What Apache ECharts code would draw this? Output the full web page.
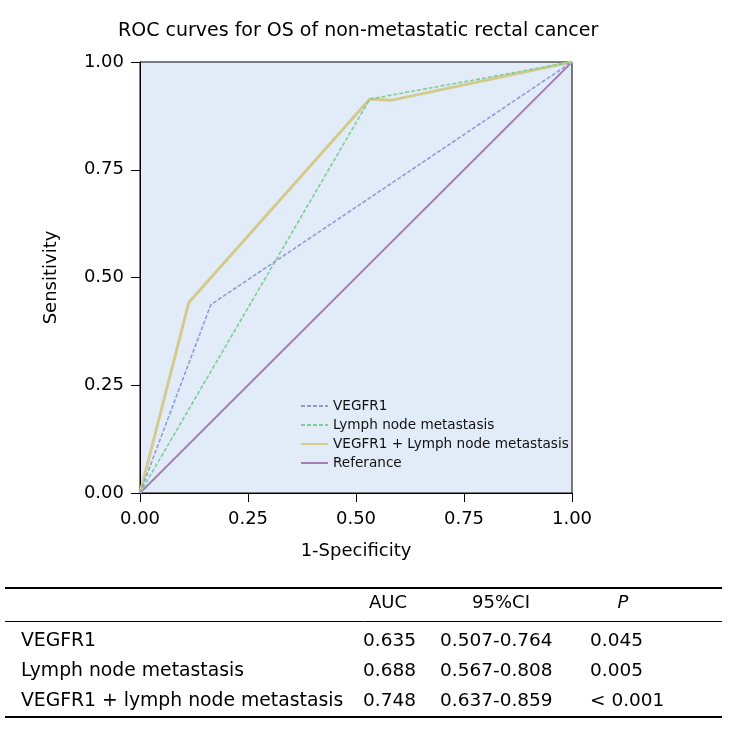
<!DOCTYPE html>
<html>
<head>
<meta charset="utf-8">
<script src="https://cdn.jsdelivr.net/npm/echarts@6/dist/echarts.min.js"></script>
<style>html,body{margin:0;padding:0;background:#fff;}#c{width:732px;height:747px;}</style>
</head>
<body>
<div id="c"></div>
<script>
const titleText = 'ROC curves for OS of non-metastatic rectal cancer';
const axisTicks = [0, 0.25, 0.5, 0.75, 1];
const seriesNames = ['VEGFR1', 'Lymph node metastasis', 'VEGFR1 + Lymph node metastasis', 'Referance'];
const vegfr1X = [0, 0.164, 1];
const vegfr1Y = [0, 0.437, 1];
const lnmX = [0, 0.532, 1];
const lnmY = [0, 0.914, 1];
const comboX = [0, 0.113, 0.532, 0.58, 1];
const comboY = [0, 0.442, 0.914, 0.911, 1];
const refX = [0, 1];
const refY = [0, 1];

const tableHeader = ['AUC', '95%CI', 'P'];
const tableNames = ['VEGFR1', 'Lymph node metastasis', 'VEGFR1 + lymph node metastasis'];
const tableAUC = ['0.635', '0.688', '0.748'];
const tableCI = ['0.507-0.764', '0.567-0.808', '0.637-0.859'];
const tableP = ['0.045', '0.005', '< 0.001'];

const FONT = 'DejaVu Sans';
const pairs = (xs, ys) => xs.map((x, i) => [x, ys[i]]);

const chart = echarts.init(document.getElementById('c'), null, {renderer: 'canvas'});

const graphic = [];
graphic.push({type: 'line', shape: {x1: 5, y1: 588, x2: 722, y2: 588}, style: {stroke: '#000', lineWidth: 2}});
graphic.push({type: 'line', shape: {x1: 5, y1: 621.5, x2: 722, y2: 621.5}, style: {stroke: '#000', lineWidth: 1}});
graphic.push({type: 'line', shape: {x1: 5, y1: 717, x2: 722, y2: 717}, style: {stroke: '#000', lineWidth: 2}});
const colCenters = [388, 501, 623];
const tfs = 18.5;
tableHeader.forEach((h, i) => {
  graphic.push({type: 'text', x: colCenters[i], y: 603, style: {text: h, fontFamily: FONT, fontSize: 18, fill: '#000', align: 'center', verticalAlign: 'middle', fontStyle: i === 2 ? 'italic' : 'normal'}});
});
const rowY = [641, 671, 701];
tableNames.forEach((n, i) => {
  const y = rowY[i];
  graphic.push({type: 'text', x: 21, y: y, style: {text: n, fontFamily: FONT, fontSize: 18.8, fill: '#000', align: 'left', verticalAlign: 'middle'}});
  graphic.push({type: 'text', x: 363, y: y, style: {text: tableAUC[i], fontFamily: FONT, fontSize: tfs, fill: '#000', align: 'left', verticalAlign: 'middle'}});
  graphic.push({type: 'text', x: 440, y: y, style: {text: tableCI[i], fontFamily: FONT, fontSize: tfs, fill: '#000', align: 'left', verticalAlign: 'middle'}});
  graphic.push({type: 'text', x: 590, y: y, style: {text: tableP[i], fontFamily: FONT, fontSize: tfs, fill: '#000', align: 'left', verticalAlign: 'middle'}});
});

const axisCommon = {
  type: 'value', min: 0, max: 1, interval: 0.25,
  axisLine: {show: true, lineStyle: {color: '#000', width: 1}},
  axisTick: {show: true, inside: false, length: 9, lineStyle: {color: '#000'}},
  splitLine: {show: false},
  axisLabel: {fontFamily: FONT, fontSize: 18, color: '#000', formatter: v => v.toFixed(2)},
  nameLocation: 'middle',
  nameTextStyle: {fontFamily: FONT, fontSize: 18, color: '#000'}
};

chart.setOption({
  animation: false,
  backgroundColor: '#fff',
  title: {text: titleText, left: 113, top: 17, textStyle: {fontFamily: FONT, fontSize: 19, fontWeight: 'normal', color: '#000'}},
  grid: {left: 140, top: 62, width: 432, height: 431, show: true, backgroundColor: '#e1ecf8', borderColor: '#000', borderWidth: 1},
  xAxis: Object.assign({}, axisCommon, {name: '1-Specificity', nameGap: 49, axisLabel: Object.assign({}, axisCommon.axisLabel, {margin: 17})}),
  yAxis: Object.assign({}, axisCommon, {name: 'Sensitivity', nameGap: 80, axisLabel: Object.assign({}, axisCommon.axisLabel, {margin: 16})}),
  legend: {
    orient: 'vertical', left: 295, top: 394, itemWidth: 27, itemHeight: 14, itemGap: 5,
    itemStyle: {opacity: 0},
    textStyle: {fontFamily: FONT, fontSize: 13.6, color: '#111'},
    data: seriesNames
  },
  series: [
    {name: seriesNames[3], type: 'line', data: pairs(refX, refY), symbol: 'none', lineStyle: {color: '#a27fb0', width: 1.8, type: 'solid'}, itemStyle: {color: '#a27fb0'}, z: 2},
    {name: seriesNames[2], type: 'line', data: pairs(comboX, comboY), symbol: 'none', lineStyle: {color: '#d3cb8c', width: 3, type: 'solid'}, itemStyle: {color: '#d3cb8c'}, z: 3},
    {name: seriesNames[1], type: 'line', data: pairs(lnmX, lnmY), symbol: 'none', lineStyle: {color: '#7fcc98', width: 1.6, type: [4, 2]}, itemStyle: {color: '#7fcc98'}, z: 4},
    {name: seriesNames[0], type: 'line', data: pairs(vegfr1X, vegfr1Y), symbol: 'none', lineStyle: {color: '#8f9cd0', width: 1.6, type: [4, 2]}, itemStyle: {color: '#8f9cd0'}, z: 5}
  ],
  graphic: graphic
});
</script>
</body>
</html>
